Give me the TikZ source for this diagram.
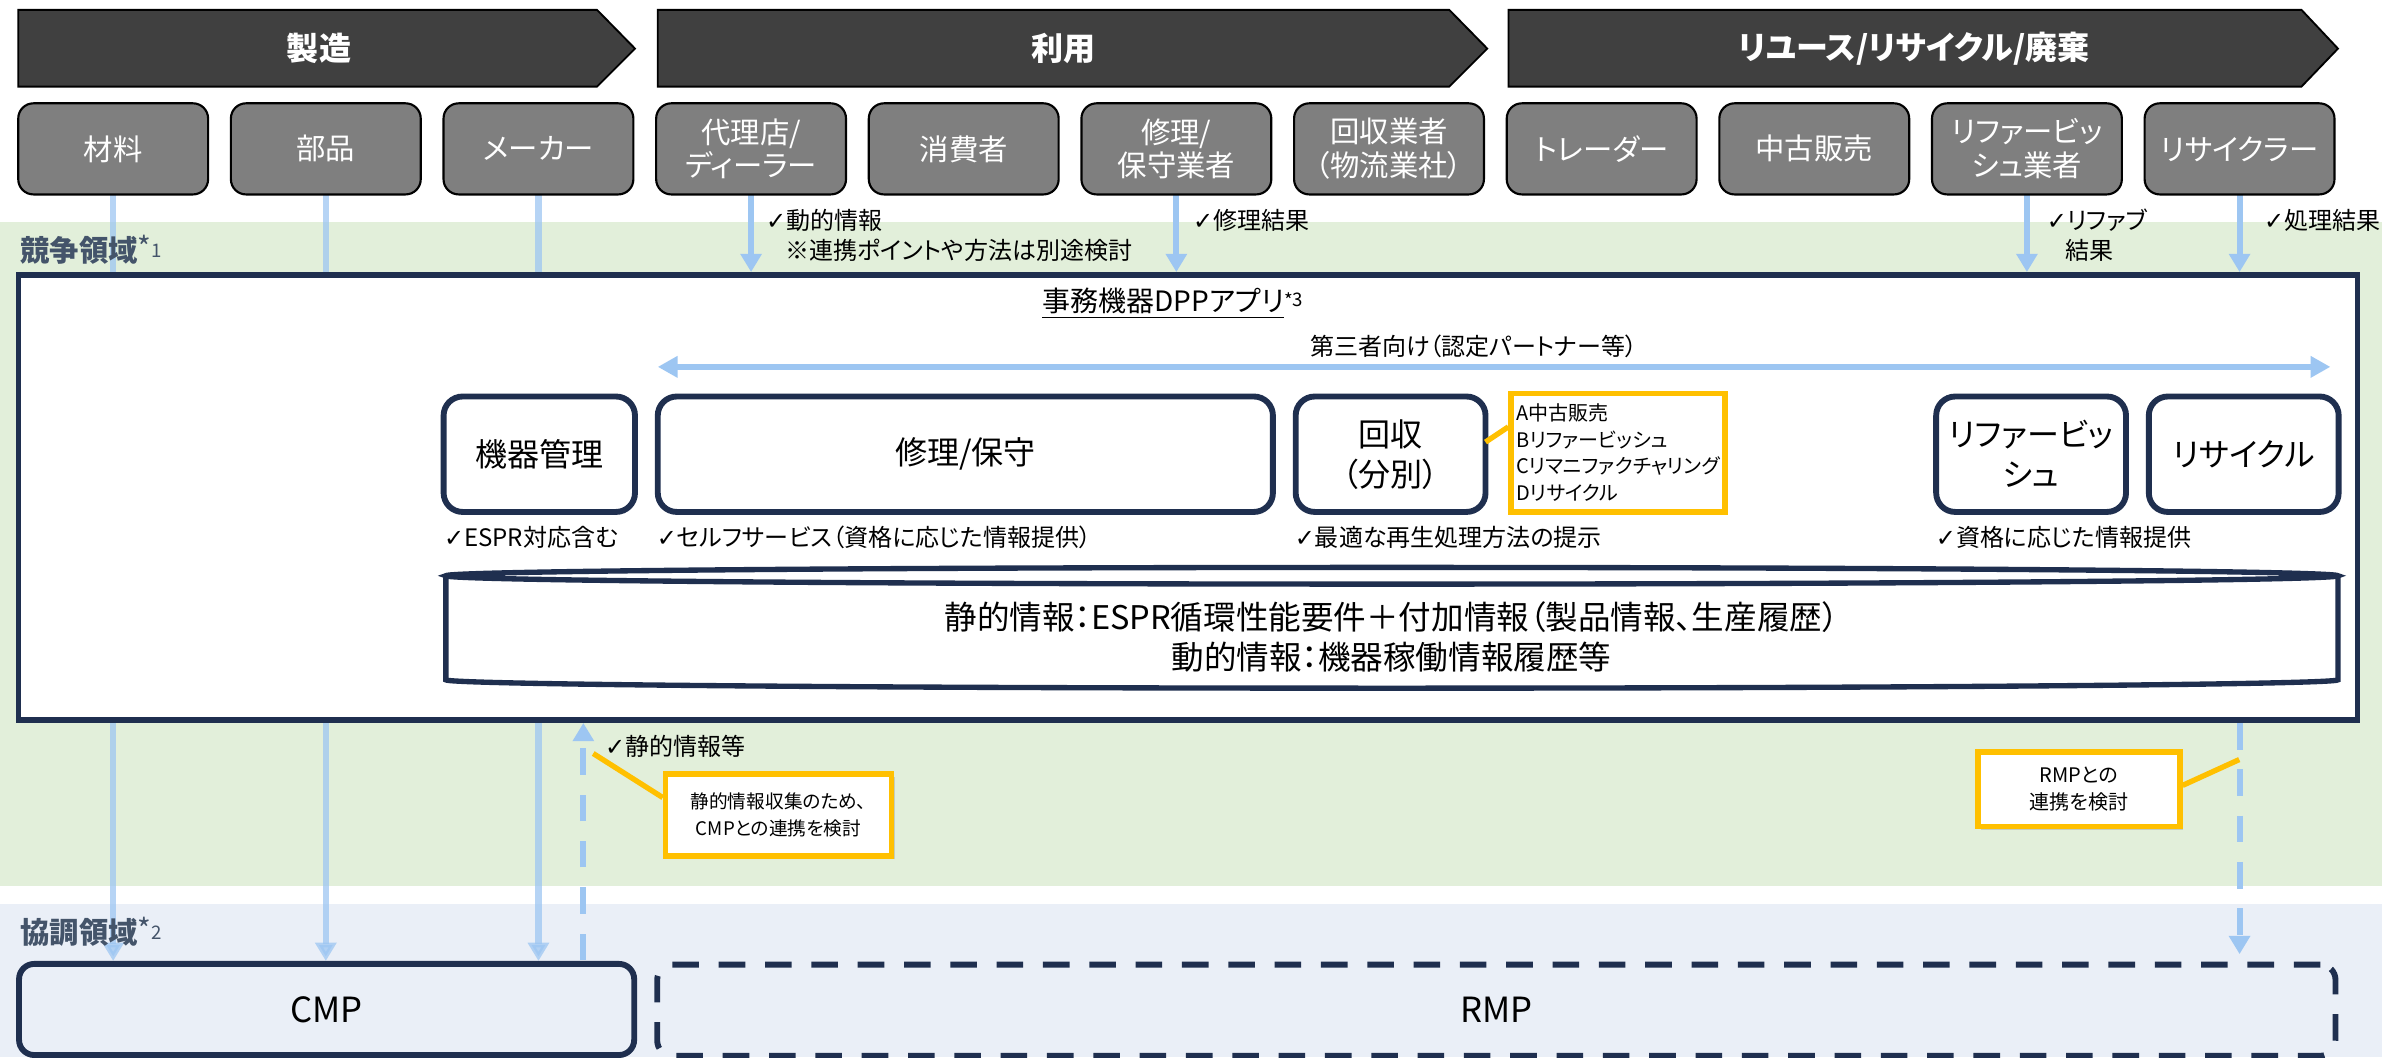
\documentclass[tikz,border=0pt]{standalone}
\usepackage{fontspec}
\setmainfont{Noto Sans CJK JP}[RawFeature=+palt]
\newfontfamily\symfont{DejaVu Sans}
\newcommand\chk{{\symfont ✓}}
\usepackage{tikz}
\usetikzlibrary{arrows.meta,positioning,calc,shadows}
\definecolor{navy}{HTML}{1F2F4F}
\definecolor{slate}{HTML}{44546A}
\definecolor{compete}{HTML}{E2EFDA}
\definecolor{coop}{HTML}{EAEFF7}
\definecolor{flowblue}{HTML}{9DC6F2}
\definecolor{noteyel}{HTML}{FFC000}
\definecolor{phasegray}{HTML}{404040}
\definecolor{actorgray}{HTML}{7F7F7F}
\pgfdeclarelayer{bands}
\pgfdeclarelayer{links}
\pgfsetlayers{bands,links,main}
\tikzset{
  phase/.style={fill=phasegray,draw=black,line width=0.7pt},
  phasetext/.style={text=white,font=\fontsize{12}{14}\selectfont\bfseries},
  actor/.style={draw=black,fill=actorgray,line width=0.8pt,rounded corners=0.2cm,
    minimum width=2.5cm,minimum height=1.2cm,outer sep=0pt,inner sep=1pt,
    text=white,align=center,font=\fontsize{11}{12.6}\selectfont},
  func/.style={draw=navy,fill=white,line width=2.2pt,rounded corners=0.25cm,
    minimum width=2.5cm,minimum height=1.52cm,outer sep=0pt,inner sep=1pt,
    align=center,font=\fontsize{12}{15}\selectfont},
  check/.style={anchor=west,inner sep=0pt,font=\fontsize{9}{11}\selectfont},
  note/.style={draw=noteyel,fill=white,line width=2pt,inner sep=2pt,align=center,
    font=\fontsize{7.5}{10}\selectfont,
    drop shadow={shadow xshift=1.2pt,shadow yshift=-1.2pt,opacity=0.3}},
  noteline/.style={draw=noteyel,line width=2pt},
  flow/.style={draw=flowblue,line width=2.3pt,-{Triangle[width=0.27cm,length=0.24cm]}},
  link/.style={draw=flowblue,line width=2.3pt,opacity=0.75,-{Triangle[width=0.27cm,length=0.24cm]}},
  dlink/.style={draw=flowblue,line width=2.3pt,dash pattern=on 0.35cm off 0.26cm,
    -{Triangle[width=0.27cm,length=0.24cm]}},
  platform/.style={draw=navy,fill=coop,line width=2.2pt,rounded corners=0.2cm,
    minimum height=1.2cm,font=\fontsize{13}{15}\selectfont},
  zone/.style={anchor=west,inner sep=0pt,text=slate,font=\fontsize{11}{13}\selectfont\bfseries},
  dbline/.style={draw=navy,line width=2pt},
}

\begin{document}
\begin{tikzpicture}[x=0.02cm,y=-0.02cm]
  \useasboundingbox (0,0) rectangle (1568,696);
  % areas
  \begin{pgfonlayer}{bands}
    \fill[compete] (0,146) rectangle (1568,583);
    \fill[coop] (0,595) rectangle (1568,696);
  \end{pgfonlayer}
  \node[zone] (zoneCompete) at (13,164.5) {競争領域\raisebox{0.1em}{\mdseries *}\raisebox{0.15em}{\mdseries\scriptsize 1}};
  \node[zone] (zoneCoop) at (13,613.5) {協調領域\raisebox{0.1em}{\mdseries *}\raisebox{0.15em}{\mdseries\scriptsize 2}};

  % phases
  \draw[phase] (12,6.5) -- (393,6.5) -- (418,32) -- (393,57) -- (12,57) -- cycle;
  \draw[phase] (433,6.5) -- (954,6.5) -- (979,32) -- (954,57) -- (433,57) -- cycle;
  \draw[phase] (993,6.5) -- (1515,6.5) -- (1539,32) -- (1515,57) -- (993,57) -- cycle;
  \node[phasetext] (hMake) at (210,32) {製造};
  \node[phasetext] (hUse) at (700,32) {利用};
  \node[phasetext] (hEnd) at (1260,32) {リユース/リサイクル/廃棄};

  % actors
  \node[actor] (zairyo) at (74.5,98) {材料};
  \node[actor,right=0.3cm of zairyo] (buhin) {部品};
  \node[actor,right=0.3cm of buhin] (maker) {メーカー};
  \node[actor,right=0.3cm of maker] (dairi) {代理店/\\ディーラー};
  \node[actor,right=0.3cm of dairi] (shohi) {消費者};
  \node[actor,right=0.3cm of shohi] (shuri) {修理/\\保守業者};
  \node[actor,right=0.3cm of shuri] (kaishu) {回収業者\\（物流業社）};
  \node[actor,right=0.3cm of kaishu] (trader) {トレーダー};
  \node[actor,right=0.3cm of trader] (chuko) {中古販売};
  \node[actor,right=0.3cm of chuko] (refurb) {リファービッ\\シュ業者};
  \node[actor,right=0.3cm of refurb] (recycler) {リサイクラー};

  % DPP app
  \node[draw=navy,fill=white,line width=2.2pt,minimum width=30.8cm,minimum height=5.86cm]
    (app) at (782,327.5) {};
  \node[font=\fontsize{10.5}{12}\selectfont] (appTitle) at (772,200)
    {\underline{事務機器DPPアプリ}\raisebox{0.15em}{\scriptsize *}\raisebox{0.2em}{\scriptsize 3}};
  \node[font=\fontsize{9}{11}\selectfont] (partner) at (970,228) {第三者向け（認定パートナー等）};
  \coordinate (pL) at (433,241.5);
  \coordinate (pR) at (1534,241.5);
  \draw[draw=flowblue,line width=2.3pt,{Triangle[width=0.27cm,length=0.26cm]}-{Triangle[width=0.27cm,length=0.26cm]}] (pL) -- (pR);

  \node[func,minimum width=2.52cm] (kiki) at (355,299) {機器管理};
  \node[func,minimum width=8.1cm,right=0.3cm of kiki] (hozen) {修理/保守};
  \node[func,right=0.3cm of hozen] (kaishuApp) {回収\\（分別）};
  \node[func] (refurbApp) at (1337,299) {リファービッ\\シュ};
  \node[func,right=0.3cm of refurbApp] (recycleApp) {リサイクル};

  \node[note,minimum width=2.64cm,minimum height=1.56cm,align=left] (noteKaishu) at (1065,298)
    {A中古販売\\Bリファービッシュ\\Cリマニファクチャリング\\Dリサイクル};
  \draw[noteline] (noteKaishu.west |- 0,281) -- (kaishuApp.east |- 0,291);

  \node[check] (chkKiki) at (292,353.5) {\chk ESPR対応含む};
  \node[check] (chkHozen) at (432,353.5) {\chk セルフサービス（資格に応じた情報提供）};
  \node[check] (chkKaishu) at (852,353.5) {\chk 最適な再生処理方法の提示};
  \node[check] (chkRefurb) at (1274,353.5) {\chk 資格に応じた情報提供};

  % data store
  \draw[dbline,fill=white] (293.5,379) -- (293.5,447.5)
    arc[start angle=180,end angle=0,x radius=622.75,y radius=5.5] -- (1539,379);
  \draw[dbline,fill=white] (916.25,379) ellipse[x radius=622.75,y radius=5.5];
  \node[align=center,font=\fontsize{12.2}{15}\selectfont] (dbinfo) at (916,419.5)
    {静的情報：ESPR循環性能要件＋付加情報（製品情報、生産履歴）\\動的情報：機器稼働情報履歴等};

  % platforms
  \node[platform,minimum width=8.1cm] (cmp) at (215,664.5) {CMP};
  \node[platform,minimum width=22.1cm,dash pattern=on 0.35cm off 0.26cm] (rmp) at (985,665) {RMP};

  % connections
  \begin{pgfonlayer}{links}
    \foreach \src in {zairyo,buhin,maker}
      \draw[link] (\src.south) -- (\src |- cmp.north);
    \foreach \src in {dairi,shuri,refurb,recycler}
      \draw[flow] (\src.south) -- (\src |- app.north);
    \coordinate (cmpLink) at (384,632);
    \draw[dlink] (cmpLink) -- (cmpLink |- app.south);
    \draw[dlink,shorten >=0.1cm] (recycler |- app.south) -- (recycler |- rmp.north);
  \end{pgfonlayer}

  \node[check] (lblDyn) at (504,145) {\chk 動的情報};
  \node[check] (lblDynNote) at (516.6,164.6) {※連携ポイントや方法は別途検討};
  \node[check] (lblRepair) at (785,145) {\chk 修理結果};
  \node[check] (lblRefurb) at (1347,145) {\chk リファブ};
  \node[check] (lblRefurb2) at (1359.6,164.6) {結果};
  \node[check] (lblRecycle) at (1490,145) {\chk 処理結果};
  \node[check] (chkStatic) at (398,491.5) {\chk 静的情報等};

  % notes
  \node[note,minimum width=2.98cm,minimum height=1.08cm,font=\fontsize{7}{10}\selectfont]
    (noteCmp) at (512.5,536.5) {静的情報収集のため、\\CMPとの連携を検討};
  \coordinate (noteCmpTip) at (390.5,496);
  \draw[noteline] (noteCmp.west |- 0,525) -- (noteCmpTip);
  \node[note,minimum width=2.66cm,minimum height=0.98cm] (noteRmp) at (1368.5,519.5)
    {RMPとの\\連携を検討};
  \coordinate (noteRmpTip) at (1474,500);
  \draw[noteline] (noteRmp.east |- 0,517) -- (noteRmpTip);
\end{tikzpicture}
\end{document}
